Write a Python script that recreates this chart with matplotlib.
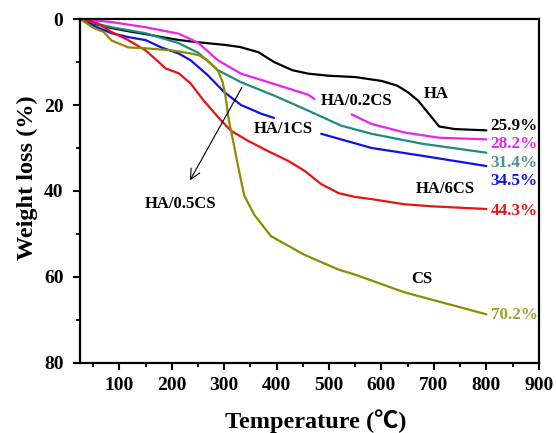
import numpy as np
import matplotlib
matplotlib.use("Agg")
import matplotlib.pyplot as plt
from matplotlib.ticker import MultipleLocator

plt.rcParams['font.family'] = ['Liberation Serif', 'DejaVu Serif']
plt.rcParams['font.weight'] = 'bold'

nan = np.nan
# ---- data (temperature in °C, weight loss in %) ----
ha_x = [25, 50, 85, 120, 150, 190, 215, 250, 300, 330, 365, 395, 430, 460, 500, 550, 600, 630, 650, 670, 690, 710, 740, 800]
ha_y = [0, 1.0, 2.1, 2.9, 3.5, 4.4, 4.9, 5.4, 6.0, 6.5, 7.7, 10.0, 11.9, 12.7, 13.2, 13.5, 14.4, 15.5, 17.0, 19.0, 22.0, 25.0, 25.6, 25.9]

c02_x = [25, 50, 85, 150, 213, 250, 288, 332, 395, 460, 472, nan, 543, 581, 644, 709, 800]
c02_y = [0, 0.3, 0.7, 1.9, 3.4, 5.5, 9.6, 12.7, 15.1, 17.6, 18.6, nan, 22.2, 24.4, 26.4, 27.6, 28.0]

c05_x = [25, 50, 85, 150, 213, 251, 288, 332, 395, 460, 523, 581, 677, 800]
c05_y = [0, 0.9, 1.9, 3.3, 5.6, 7.9, 11.9, 14.7, 17.8, 21.3, 24.8, 26.7, 29.0, 31.1]

c1_x = [25, 50, 85, 117, 150, 180, 213, 236, 268, 300, 332, 370, 395, nan, 485, 581, 677, 800]
c1_y = [0, 1.5, 3.3, 4.2, 4.9, 6.6, 8.0, 9.6, 13.0, 17.0, 20.0, 22.0, 23.0, nan, 26.7, 30.0, 31.8, 34.2]

c6_x = [25, 57, 85, 117, 150, 175, 188, 213, 236, 261, 294, 313, 345, 383, 422, 453, 485, 518, 550, 581, 644, 700, 800]
c6_y = [0, 0.9, 3.0, 4.9, 7.3, 10.0, 11.5, 12.6, 15.0, 19.0, 23.6, 26.0, 28.3, 30.7, 33.0, 35.3, 38.4, 40.5, 41.4, 41.9, 43.1, 43.6, 44.2]

cs_x = [25, 50, 70, 85, 117, 150, 200, 236, 251, 268, 288, 297, 303, 309, 313, 318, 326, 338, 357, 389, 452, 518, 548, 644, 800]
cs_y = [0, 2.0, 3.0, 5.0, 6.6, 6.8, 7.3, 8.0, 8.4, 9.6, 12.0, 14.7, 18.5, 23.6, 26.0, 29.0, 34.0, 41.0, 45.5, 50.5, 54.8, 58.3, 59.4, 63.6, 68.7]

end_labels = ['25.9%', '28.2%', '31.4%', '34.5%', '44.3%', '70.2%']
end_label_y = [25.0, 29.0, 33.5, 37.7, 44.7, 68.8]

colors = ['#000000', '#ee22ee', '#1f8a80', '#1010ee', '#ee1111', '#8c8c00']
end_colors = ['#000000', '#ee22ee', '#4f8f8a', '#1010ee', '#ee1111', '#a0a030']

fig = plt.figure(figsize=(5.56, 4.33), dpi=100)
ax = fig.add_axes([0.144, 0.162, 0.825, 0.794])

series = [(ha_x, ha_y), (c02_x, c02_y), (c05_x, c05_y), (c1_x, c1_y), (c6_x, c6_y), (cs_x, cs_y)]
for (sx, sy), c in zip(series, colors):
    ax.plot(sx, sy, color=c, lw=1.6, solid_capstyle='round', solid_joinstyle='round')

ax.set_xlim(25, 900)
ax.set_ylim(80, 0)
ax.xaxis.set_major_locator(MultipleLocator(100))
ax.xaxis.set_minor_locator(MultipleLocator(50))
ax.yaxis.set_major_locator(MultipleLocator(20))
ax.yaxis.set_minor_locator(MultipleLocator(10))
ax.set_xticks([100, 200, 300, 400, 500, 600, 700, 800, 900])
for s in ax.spines.values():
    s.set_linewidth(1.6)
ax.tick_params(which='major', direction='out', length=5, width=1.5, labelsize=14, pad=5)
ax.tick_params(axis='y', which='major', pad=7)
ax.tick_params(which='minor', direction='out', length=3, width=1.3)
for lab in ax.get_xticklabels() + ax.get_yticklabels():
    lab.set_fontweight('bold')

ax.set_xlabel('Temperature (℃)', fontsize=17.5, fontweight='bold',
              family=['Liberation Serif', 'Noto Sans CJK SC'])
ax.xaxis.set_label_coords(0.514, -0.135)
ax.set_ylabel('Weight loss (%)', fontsize=17.5, fontweight='bold')
ax.yaxis.set_label_coords(-0.092, 0.538)

# curve labels
lab_kw = dict(fontsize=12, fontweight='bold', ha='center', va='center')
ax.text(705, 17.4, 'HA', **lab_kw)
ax.text(552, 19.0, 'HA/0.2CS', **lab_kw)
ax.text(412, 25.5, 'HA/1CS', **lab_kw)
ax.text(217, 43.0, 'HA/0.5CS', **lab_kw)
ax.text(721, 39.6, 'HA/6CS', **lab_kw)
ax.text(677, 60.4, 'CS', **lab_kw)

for t, yv, c in zip(end_labels, end_label_y, end_colors):
    ax.text(808, yv, t, color=c, fontsize=12.3, fontweight='bold', ha='left', va='center')

ax.annotate('', xy=(232, 38.1), xytext=(336, 15.4),
            arrowprops=dict(arrowstyle='->', color='black', lw=0.8, mutation_scale=18))

fig.savefig('out.png', dpi=100)
